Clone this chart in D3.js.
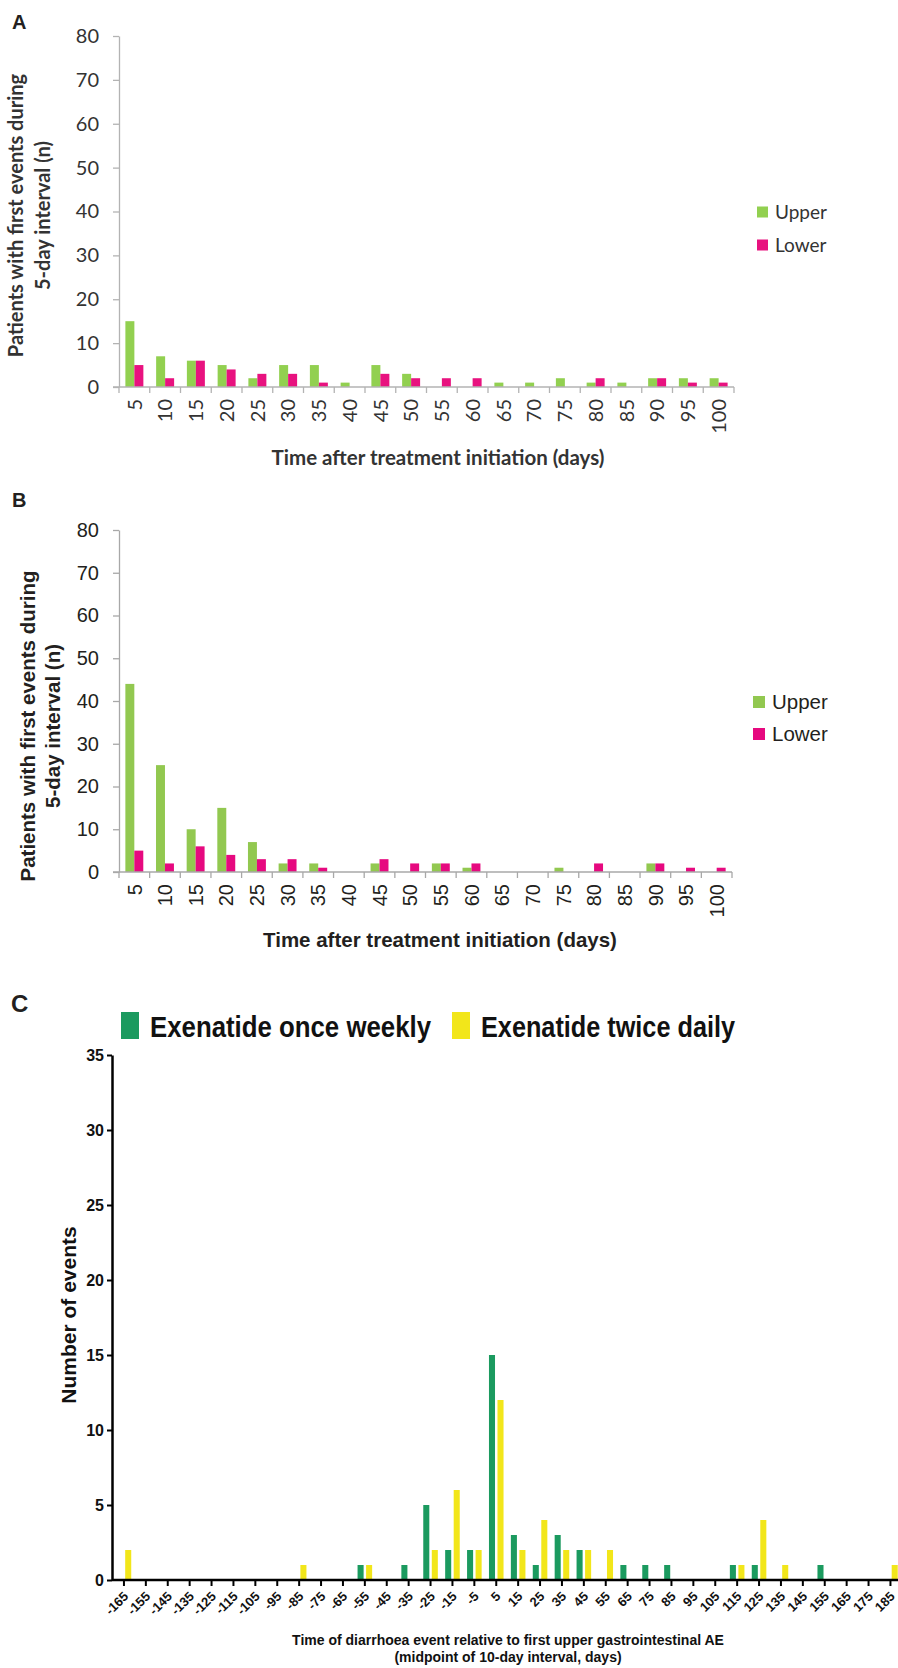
<!DOCTYPE html>
<html lang="en">
<head>
<meta charset="UTF-8">
<title>GI events</title>
<style>
  body { margin: 0; background: #fff; }
  svg { display: block; }
</style>
</head>
<body>
<script src="https://cdnjs.cloudflare.com/ajax/libs/d3/7.8.5/d3.min.js"></script>
<script>
// ---- data ----
const daysAB = ['5','10','15','20','25','30','35','40','45','50','55','60','65','70','75','80','85','90','95','100'];
const upperA = [15, 7, 6, 5, 2, 5, 5, 1, 5, 3, 0, 0, 1, 1, 2, 1, 1, 2, 2, 2];
const lowerA = [5, 2, 6, 4, 3, 3, 1, 0, 3, 2, 2, 2, 0, 0, 0, 2, 0, 2, 1, 1];
const upperB = [44, 25, 10, 15, 7, 2, 2, 0, 2, 0, 2, 1, 0, 0, 1, 0, 0, 2, 0, 0];
const lowerB = [5, 2, 6, 4, 3, 3, 1, 0, 3, 2, 2, 2, 0, 0, 0, 2, 0, 2, 1, 1];
const ticksAB = [0, 10, 20, 30, 40, 50, 60, 70, 80];

const daysC = ['-165','-155','-145','-135','-125','-115','-105','-95','-85','-75','-65','-55','-45','-35','-25','-15','-5',
               '5','15','25','35','45','55','65','75','85','95','105','115','125','135','145','155','165','175','185'];
const weeklyC = [0,0,0,0,0,0,0,0,0,0,0,1,0,1,5,2,2,15,3,1,3,2,0,1,1,1,0,0,1,1,0,0,1,0,0,0];
const dailyC  = [2,0,0,0,0,0,0,0,1,0,0,1,0,0,2,6,2,12,2,4,2,2,2,0,0,0,0,0,1,4,1,0,0,0,0,1];
const ticksC = [0, 5, 10, 15, 20, 25, 30, 35];

const W = 898, H = 1668;
const svg = d3.select('body').append('svg').attr('width', W).attr('height', H);

// panels A and B share the same layout
function groupedPanel(o) {
  const g = svg.append('g').attr('font-family', o.font);
  const y = d3.scaleLinear().domain([0, 80]).range([o.y0, o.y1]);
  const x = d3.scaleBand().domain(o.cats).range([o.x0, o.x1]);
  const sub = d3.scaleBand().domain(['Upper', 'Lower']).range([0, x.bandwidth()]).paddingOuter(0.71);

  const ya = g.append('g').attr('transform', `translate(${o.x0},0)`)
    .call(d3.axisLeft(y).tickValues(ticksAB).tickSize(6).tickSizeOuter(0).tickPadding(14));
  ya.attr('font-family', o.font);
  ya.select('.domain').attr('stroke', o.axis).attr('stroke-width', 1.3);
  ya.selectAll('.tick line').attr('stroke', o.axis).attr('stroke-width', 1.3);
  ya.selectAll('.tick text').attr('font-size', o.tick).attr('fill', o.text);

  // bars
  const rows = o.cats.map((c, i) => ({ c, Upper: o.upper[i], Lower: o.lower[i] }));
  ['Upper', 'Lower'].forEach(k => {
    g.append('g').selectAll('rect').data(rows).join('rect')
      .attr('x', d => x(d.c) + sub(k))
      .attr('y', d => y(d[k]))
      .attr('width', sub.bandwidth())
      .attr('height', d => y(0) - y(d[k]))
      .attr('fill', o.colors[k]);
  });

  // x axis with ticks between categories
  const xa = g.append('g');
  xa.append('line').attr('x1', o.x0 - 6).attr('x2', o.x1).attr('y1', y(0)).attr('y2', y(0))
    .attr('stroke', o.axis).attr('stroke-width', 1.3);
  const edges = o.cats.map(c => x(c)).concat([x(o.cats[o.cats.length - 1]) + x.bandwidth()]);
  xa.selectAll('.tk').data(edges).join('line')
    .attr('x1', d => d).attr('x2', d => d).attr('y1', y(0)).attr('y2', y(0) + 6)
    .attr('stroke', o.axis).attr('stroke-width', 1.3);
  xa.selectAll('text').data(o.cats).join('text')
    .attr('transform', d => `translate(${x(d) + x.bandwidth() / 2},${y(0) + 12}) rotate(-90)`)
    .attr('text-anchor', 'end').attr('dy', '0.36em')
    .attr('font-size', o.tick).attr('fill', o.text).text(d => d);

  // axis titles
  g.append('text').attr('x', o.titleX).attr('y', o.titleY).attr('text-anchor', 'middle')
    .attr('font-weight', 'bold').attr('font-size', o.title).attr('fill', o.text)
    .text('Time after treatment initiation (days)');
  const mid = (y(0) + y(80)) / 2 + o.ytShift;
  ['Patients with first events during', '5-day interval (n)'].forEach((t, i) => {
    g.append('text').attr('transform', `translate(${o.ytX[i]},${mid}) rotate(-90)`)
      .attr('text-anchor', 'middle').attr('font-weight', 'bold')
      .attr('font-size', o.ytitle).attr('fill', o.text).text(t);
  });

  // legend
  const lg = g.append('g').attr('transform', `translate(${o.legX},${o.legY})`);
  ['Upper', 'Lower'].forEach((k, i) => {
    lg.append('rect').attr('x', 0).attr('y', i * o.legGap - o.sq / 2).attr('width', o.sq).attr('height', o.sq)
      .attr('fill', o.colors[k]);
    lg.append('text').attr('x', o.sq + 7).attr('y', i * o.legGap).attr('dy', '0.35em')
      .attr('font-size', o.legFont).attr('fill', o.text).text(k);
  });

  // panel letter
  svg.append('text').attr('x', 12).attr('y', o.letterY).attr('font-family', 'Liberation Sans, Arial, sans-serif')
    .attr('font-weight', 'bold').attr('font-size', 20).attr('fill', '#231f20').text(o.letter);
}

groupedPanel({
  letter: 'A', letterY: 29,
  font: 'Lato, Carlito, sans-serif',
  cats: daysAB, upper: upperA, lower: lowerA,
  x0: 119, x1: 734, y0: 387, y1: 36,
  colors: { Upper: '#92d050', Lower: '#e8127f' },
  axis: '#b3b3b3', text: '#333333', tick: 20,
  title: 20.5, titleX: 438, titleY: 465,
  ytitle: 20, ytX: [23, 50], ytShift: 4,
  legX: 757, legY: 212, legGap: 33, sq: 11, legFont: 19
});

groupedPanel({
  letter: 'B', letterY: 507,
  font: 'Liberation Sans, Arial, sans-serif',
  cats: daysAB, upper: upperB, lower: lowerB,
  x0: 119, x1: 732, y0: 872, y1: 530,
  colors: { Upper: '#92c850', Lower: '#e6097f' },
  axis: '#a8a8a8', text: '#231f20', tick: 20,
  title: 20.5, titleX: 440, titleY: 947,
  ytitle: 20.5, ytX: [35, 60], ytShift: 25,
  legX: 753, legY: 702, legGap: 32, sq: 12, legFont: 20.5
});

// ---- panel C ----
(function () {
  const g = svg.append('g').attr('font-family', 'Liberation Sans, Arial, sans-serif').attr('font-weight', 'bold');
  const colors = { weekly: '#1b9a5f', daily: '#f2e61a' };
  const y = d3.scaleLinear().domain([0, 35]).range([1580, 1055]);
  const x = d3.scaleBand().domain(daysC).range([113, 901.4]);
  const sub = d3.scaleBand().domain(['weekly', 'daily']).range([0, x.bandwidth()])
    .paddingInner(0.29).paddingOuter(0.43);

  const rows = daysC.map((c, i) => ({ c, weekly: weeklyC[i], daily: dailyC[i] }));
  ['weekly', 'daily'].forEach(k => {
    g.append('g').selectAll('rect').data(rows.filter(d => d[k] > 0)).join('rect')
      .attr('x', d => x(d.c) + sub(k))
      .attr('y', d => y(d[k]))
      .attr('width', sub.bandwidth())
      .attr('height', d => y(0) - y(d[k]))
      .attr('fill', colors[k]);
  });

  const ya = g.append('g').attr('transform', 'translate(112,0)')
    .call(d3.axisLeft(y).tickValues(ticksC).tickSize(5).tickSizeOuter(0).tickPadding(3));
  ya.attr('font-family', 'Liberation Sans Narrow, Liberation Sans, Arial, sans-serif').attr('font-weight', 'bold');
  ya.select('.domain').attr('stroke', '#000').attr('stroke-width', 2.5);
  ya.selectAll('.tick line').attr('stroke', '#000').attr('stroke-width', 2);
  ya.selectAll('.tick text').attr('font-size', 16).attr('fill', '#111');

  const xa = g.append('g').attr('transform', `translate(0,${y(0)})`)
    .call(d3.axisBottom(x).tickSize(6).tickSizeOuter(0));
  xa.attr('font-family', 'Liberation Sans, Arial, sans-serif').attr('font-weight', 'bold');
  xa.select('.domain').attr('stroke', '#000').attr('stroke-width', 2.5).attr('d', `M${x.range()[0] - 1},0H${W}`);
  xa.selectAll('.tick line').attr('stroke', '#000').attr('stroke-width', 2);
  xa.selectAll('.tick text').attr('font-size', 13).attr('fill', '#111')
    .attr('text-anchor', 'end').attr('x', 0).attr('y', 0).attr('dy', '0.35em')
    .attr('transform', 'translate(2,14) rotate(-45)');

  g.append('text').attr('transform', 'translate(76,1315) rotate(-90)').attr('text-anchor', 'middle')
    .attr('font-size', 21).attr('fill', '#111').text('Number of events');
  g.append('text').attr('x', 508).attr('y', 1645).attr('text-anchor', 'middle').attr('font-size', 14)
    .attr('fill', '#111').text('Time of diarrhoea event relative to first upper gastrointestinal AE');
  g.append('text').attr('x', 508).attr('y', 1662).attr('text-anchor', 'middle').attr('font-size', 14)
    .attr('fill', '#111').text('(midpoint of 10-day interval, days)');

  // legend
  const legend = [
    { key: 'weekly', label: 'Exenatide once weekly', x: 121, len: 281 },
    { key: 'daily', label: 'Exenatide twice daily', x: 452, len: 254 }
  ];
  legend.forEach(l => {
    g.append('rect').attr('x', l.x).attr('y', 1012).attr('width', 18).attr('height', 27).attr('fill', colors[l.key]);
    g.append('text').attr('x', l.x + 29).attr('y', 1037).attr('font-size', 29)
      .attr('textLength', l.len).attr('lengthAdjust', 'spacingAndGlyphs')
      .attr('fill', '#111').text(l.label);
  });

  svg.append('text').attr('x', 11).attr('y', 1012).attr('font-family', 'Liberation Sans, Arial, sans-serif')
    .attr('font-weight', 'bold').attr('font-size', 24).attr('fill', '#231f20').text('C');
})();
</script>
</body>
</html>
